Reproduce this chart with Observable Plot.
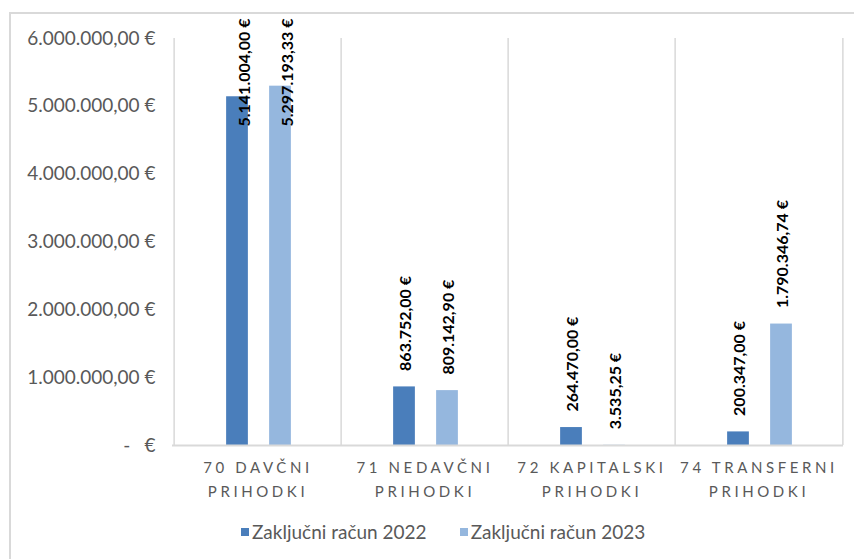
<!DOCTYPE html>
<html><head><meta charset="utf-8">
<script src="https://cdn.jsdelivr.net/npm/d3@7"></script>
<script src="https://cdn.jsdelivr.net/npm/@observablehq/plot@0.6"></script>
<style>
body{margin:0;background:#fff;font-family:Lato,sans-serif;overflow:hidden;}
#frame{position:absolute;left:9px;top:12px;width:900px;height:600px;border:2px solid #d9d9d9;box-sizing:border-box;}
#chart{position:absolute;left:0;top:0;}
#chart svg{overflow:visible;}
#chart g[aria-label="x-axis tick label"] text{letter-spacing:3.6px;}
#legend{position:absolute;left:241px;top:520px;display:flex;align-items:center;font-size:19px;color:#595959;font-family:Lato,sans-serif;}
#legend .item{display:flex;align-items:center;margin-right:33px;}
#legend .sw{width:8px;height:8px;margin-right:3px;}
</style>
</head><body>
<div id="frame"></div>
<div id="chart"></div>
<div id="legend"></div>
<script>
const categories = ["70 DAVČNI PRIHODKI", "71 NEDAVČNI PRIHODKI", "72 KAPITALSKI PRIHODKI", "74 TRANSFERNI PRIHODKI"];
const series = ["Zaključni račun 2022", "Zaključni račun 2023"];
const values2022 = [5141004.00, 863752.00, 264470.00, 200347.00];
const values2023 = [5297193.33, 809142.90, 3535.25, 1790346.74];
const yTicks = [0, 1000000, 2000000, 3000000, 4000000, 5000000, 6000000];
const colors = ["#4a7ebb", "#95b7de"];

const locale = d3.formatLocale({decimal: ",", thousands: ".", grouping: [3], currency: ["", ""]});
const num = locale.format(",.2f");
const eur = v => num(v) + " €";
const yFmt = v => v === 0 ? "-\u2002\u2005€" : eur(v);

const W = 854, H = 510, mL = 172, mR = 11, mT = 38, mB = 65;
const bandW = (W - mL - mR) / categories.length;
const barW = 22.5, off = 21.5;
const inset = (bandW - barW) / 2;

const rows = [];
categories.forEach((c, i) => {
  rows.push({category: c, series: series[0], value: values2022[i], label: eur(values2022[i])});
  rows.push({category: c, series: series[1], value: values2023[i], label: eur(values2023[i])});
});
const yPx = d3.scaleLinear().domain([0, yTicks[yTicks.length - 1]]).range([H - mB, mT]);
const fits = d => yPx(d.value) - 16 - d.label.length * 7.7 >= 18;

const textMarks = [];
series.forEach((s, k) => {
  const dx = (k === 0 ? -off : off) + 2;
  const sub = rows.filter(d => d.series === s);
  textMarks.push(Plot.text(sub.filter(fits), {x: "category", y: "value", text: "label", rotate: -90, textAnchor: "start", dx, dy: -16, fontWeight: "bold", fontSize: 16, fill: "#000", fontFamily: "Lato"}));
  textMarks.push(Plot.text(sub.filter(d => !fits(d)), {x: "category", frameAnchor: "top", text: "label", rotate: -90, textAnchor: "end", dx, dy: -20, fontWeight: "bold", fontSize: 16, fill: "#000", fontFamily: "Lato"}));
});

const plot = Plot.plot({
  width: W, height: H,
  marginLeft: mL, marginRight: mR, marginTop: mT, marginBottom: mB,
  style: {fontFamily: "Lato, sans-serif", background: "transparent", overflow: "visible"},
  x: {domain: categories, padding: 0, axis: null},
  y: {domain: [0, yTicks[yTicks.length - 1]], axis: null},
  color: {domain: series, range: colors},
  marks: [
    Plot.ruleX(categories, {x: d => d, dx: -bandW / 2, stroke: "#d9d9d9", strokeWidth: 1.5}),
    Plot.ruleX(categories.slice(-1), {x: d => d, dx: bandW / 2, stroke: "#d9d9d9", strokeWidth: 1.5}),
    Plot.axisY(yTicks, {tickSize: 0, tickPadding: 17, fontSize: 19, color: "#595959", tickFormat: yFmt, label: null}),
    Plot.axisX({tickSize: 0, tickPadding: 10, fontSize: 15, color: "#595959", lineHeight: 1.6, label: null, tickFormat: d => d.replace(" PRIHODKI", "\nPRIHODKI")}),
    Plot.barY(rows.filter(d => d.series === series[0]), {x: "category", y: "value", fill: "series", dx: -off + 1, insetLeft: inset, insetRight: inset}),
    Plot.barY(rows.filter(d => d.series === series[1]), {x: "category", y: "value", fill: "series", dx: off + 1, insetLeft: inset, insetRight: inset}),
    Plot.ruleY([0], {stroke: "#d9d9d9", strokeWidth: 2}),
    ...textMarks
  ]
});
document.getElementById("chart").appendChild(plot);

const legend = document.getElementById("legend");
series.forEach((s, i) => {
  const it = document.createElement("div");
  it.className = "item";
  it.innerHTML = `<span class="sw" style="background:${colors[i]}"></span><span>${s}</span>`;
  legend.appendChild(it);
});
</script>
</body></html>
